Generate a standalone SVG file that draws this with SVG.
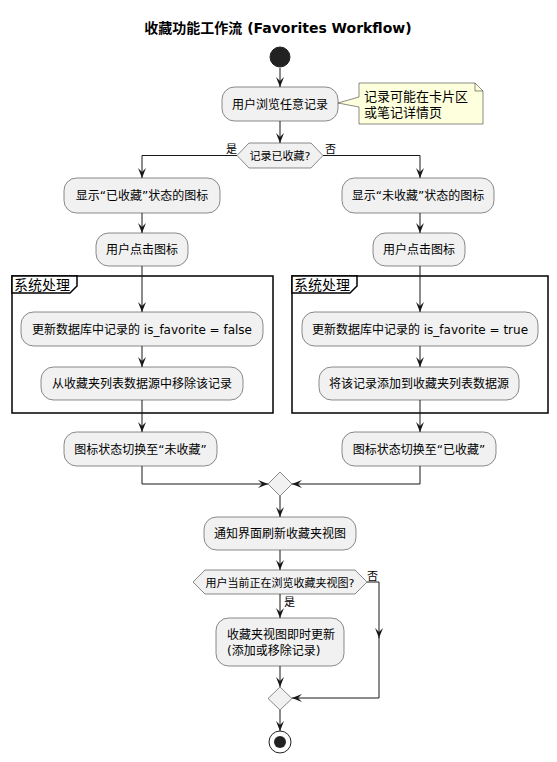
<svg xmlns="http://www.w3.org/2000/svg" width="557" height="762" viewBox="0 0 557 762">
<style>
text{font-family:"DejaVu Sans","Noto Sans CJK SC",sans-serif;fill:#000}
.t{font-size:12px;text-anchor:middle}
.lbl{font-size:11px}
.act{fill:#F1F1F1;stroke:#181818;stroke-width:0.5}
.dec{fill:#F1F1F1;stroke:#181818;stroke-width:0.5}
.frm{fill:none;stroke:#000;stroke-width:1.5}
.tab{fill:#fff;stroke:#000;stroke-width:1.5}
.c{fill:none;stroke:#181818;stroke-width:1}
</style>
<defs>
<marker id="ah" markerUnits="userSpaceOnUse" viewBox="0 0 10 8" refX="10" refY="4" markerWidth="10" markerHeight="8" orient="auto">
<path d="M0,0 L10,4 L0,8 L4,4 Z" fill="#181818"/>
</marker>
</defs>
<rect width="557" height="762" fill="#fff"/>
<text x="278" y="33" style="font-size:14px;font-weight:bold;text-anchor:middle">收藏功能工作流 (Favorites Workflow)</text>

<g id="frames">
<g id="frame-left">
<rect class="frm" x="12" y="276" width="261" height="137"/>
<path class="tab" d="M12,276 H77 V286 L70,293 H12 Z"/>
<text x="14" y="290" style="font-size:14px">系统处理</text>
</g>
<g id="frame-right">
<rect class="frm" x="292" y="276" width="256" height="137"/>
<path class="tab" d="M292,276 H357 V286 L350,293 H292 Z"/>
<text x="294" y="290" style="font-size:14px">系统处理</text>
</g>
</g>

<g id="connectors">
<path class="c" d="M280,68 V87" marker-end="url(#ah)"/>
<path class="c" d="M280,121 V143" marker-end="url(#ah)"/>
<path class="c" d="M237,155.5 H142 V178" marker-end="url(#ah)"/>
<path class="c" d="M323,155.5 H420 V178" marker-end="url(#ah)"/>
<path class="c" d="M142,213 V233" marker-end="url(#ah)"/>
<path class="c" d="M420,213 V233" marker-end="url(#ah)"/>
<path class="c" d="M142,266 V312" marker-end="url(#ah)"/>
<path class="c" d="M420,266 V312" marker-end="url(#ah)"/>
<path class="c" d="M142,346 V367" marker-end="url(#ah)"/>
<path class="c" d="M420,346 V367" marker-end="url(#ah)"/>
<path class="c" d="M142,400 V432" marker-end="url(#ah)"/>
<path class="c" d="M420,400 V432" marker-end="url(#ah)"/>
<path class="c" d="M142,466 V484 H268" marker-end="url(#ah)"/>
<path class="c" d="M420,466 V484 H292" marker-end="url(#ah)"/>
<path class="c" d="M280,496 V517" marker-end="url(#ah)"/>
<path class="c" d="M280,550 V570" marker-end="url(#ah)"/>
<path class="c" d="M280,594 V618" marker-end="url(#ah)"/>
<path class="c" d="M367,582 H379 V638" marker-end="url(#ah)"/>
<path class="c" d="M379,637 V698 H292" marker-end="url(#ah)"/>
<path class="c" d="M280,666 V687" marker-end="url(#ah)"/>
<path class="c" d="M280,710 V731" marker-end="url(#ah)"/>
<text class="lbl" x="226" y="153">是</text>
<text class="lbl" x="325" y="153">否</text>
<text class="lbl" x="367" y="580">否</text>
<text class="lbl" x="284" y="606">是</text>
</g>

<g id="start"><circle cx="280" cy="57" r="10" fill="#222" stroke="#222"/></g>

<g id="n-browse">
<rect class="act" x="222" y="87" width="116" height="34" rx="12.5"/>
<text class="t" x="280" y="108.5">用户浏览任意记录</text>
</g>
<g id="note">
<path d="M359,83 H475 L483,91 V124 H359 V107 L338,103 L359,97 Z" fill="#FEFFDD" stroke="#181818" stroke-width="0.5"/>
<path d="M475,83 V91 H483" fill="none" stroke="#181818" stroke-width="0.5"/>
<text x="364" y="101" style="font-size:13px">记录可能在卡片区</text>
<text x="364" y="117" style="font-size:13px">或笔记详情页</text>
</g>
<g id="d-fav">
<path class="dec" d="M237,155.5 L249,143 H311 L323,155.5 L311,168 H249 Z"/>
<text x="280" y="160" style="font-size:11px;text-anchor:middle">记录已收藏?</text>
</g>

<g id="n-show-fav">
<rect class="act" x="64" y="178" width="156" height="35" rx="12.5"/>
<text class="t" x="142" y="200">显示“已收藏”状态的图标</text>
</g>
<g id="n-show-unfav">
<rect class="act" x="342" y="178" width="152" height="35" rx="12.5"/>
<text class="t" x="418" y="200">显示“未收藏”状态的图标</text>
</g>
<g id="n-click-l">
<rect class="act" x="96" y="233" width="92" height="33" rx="12.5"/>
<text class="t" x="142" y="254">用户点击图标</text>
</g>
<g id="n-click-r">
<rect class="act" x="373" y="233" width="92" height="33" rx="12.5"/>
<text class="t" x="419" y="254">用户点击图标</text>
</g>
<g id="n-update-false">
<rect class="act" x="21" y="312" width="242" height="34" rx="12.5"/>
<text class="t" x="142" y="333.5">更新数据库中记录的 is_favorite = false</text>
</g>
<g id="n-update-true">
<rect class="act" x="302" y="312" width="236" height="34" rx="12.5"/>
<text class="t" x="420" y="333.5">更新数据库中记录的 is_favorite = true</text>
</g>
<g id="n-remove">
<rect class="act" x="41" y="367" width="202" height="33" rx="12.5"/>
<text class="t" x="142" y="388">从收藏夹列表数据源中移除该记录</text>
</g>
<g id="n-add">
<rect class="act" x="319" y="367" width="200" height="33" rx="12.5"/>
<text class="t" x="419" y="388">将该记录添加到收藏夹列表数据源</text>
</g>
<g id="n-to-unfav">
<rect class="act" x="64" y="432" width="153" height="34" rx="12.5"/>
<text class="t" x="140.5" y="453.5">图标状态切换至“未收藏”</text>
</g>
<g id="n-to-fav">
<rect class="act" x="342" y="432" width="154" height="34" rx="12.5"/>
<text class="t" x="419" y="453.5">图标状态切换至“已收藏”</text>
</g>
<g id="m1"><path class="dec" d="M280,472 L292,484 L280,496 L268,484 Z"/></g>
<g id="n-notify">
<rect class="act" x="204" y="517" width="152" height="33" rx="12.5"/>
<text class="t" x="280" y="538">通知界面刷新收藏夹视图</text>
</g>
<g id="d-view">
<path class="dec" d="M193,582 L205,570 H355 L367,582 L355,594 H205 Z"/>
<text x="280" y="586.5" style="font-size:11px;text-anchor:middle">用户当前正在浏览收藏夹视图?</text>
</g>
<g id="n-refresh">
<rect class="act" x="216" y="618" width="128" height="48" rx="12.5"/>
<text x="227" y="639" style="font-size:12px">收藏夹视图即时更新</text>
<text x="227" y="655" style="font-size:12px">(添加或移除记录)</text>
</g>
<g id="m2"><path class="dec" d="M280,687 L292,698.5 L280,710 L268,698.5 Z"/></g>
<g id="end">
<circle cx="280" cy="742" r="11" fill="none" stroke="#222" stroke-width="1"/>
<circle cx="280" cy="742" r="6" fill="#222"/>
</g>
</svg>
